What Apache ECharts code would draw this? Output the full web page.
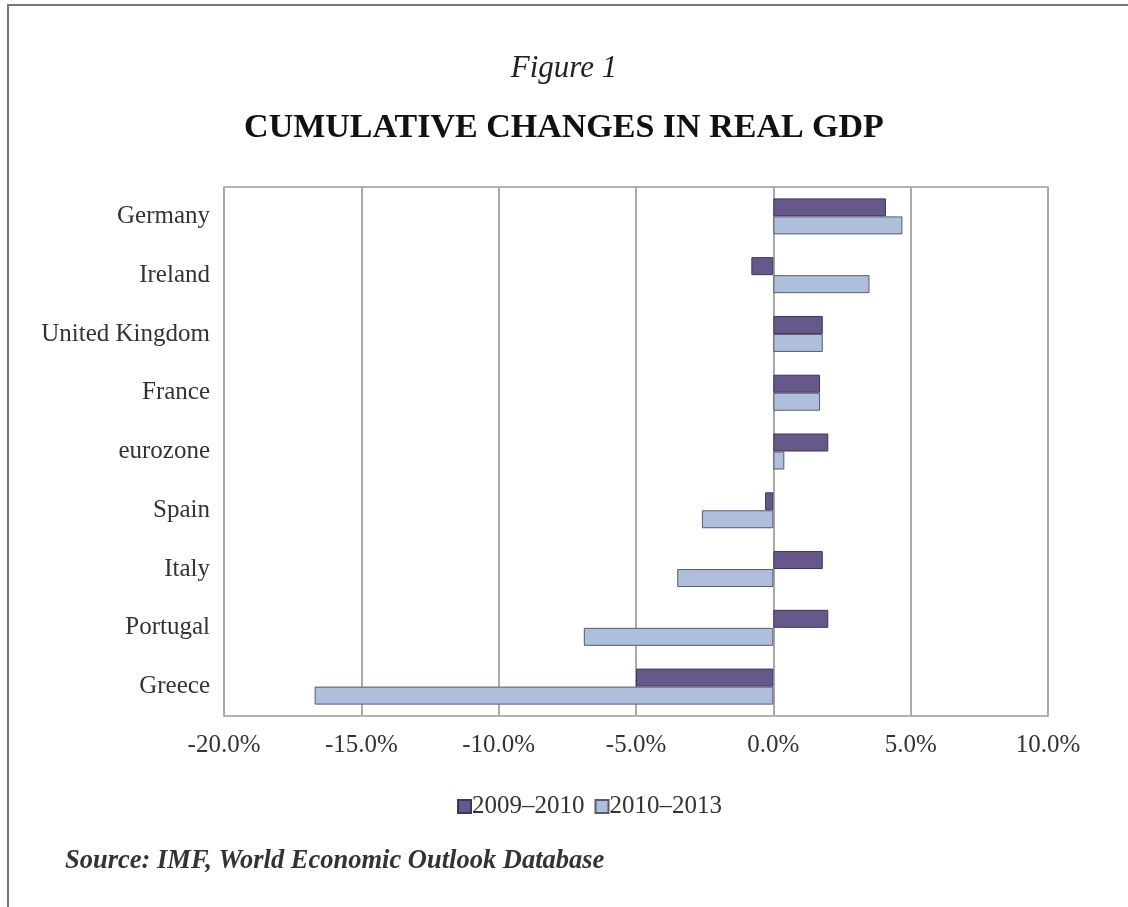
<!DOCTYPE html>
<html>
<head>
<meta charset="utf-8">
<style>
html,body{margin:0;padding:0;background:#fff;}
#chart{width:1128px;height:907px;}
</style>
<script src="https://cdn.jsdelivr.net/npm/echarts@6/dist/echarts.min.js"></script>
</head>
<body>
<div id="chart"></div>
<script>
const categories = ['Germany','Ireland','United Kingdom','France','eurozone','Spain','Italy','Portugal','Greece'];
const series1Name = '2009\u20132010';
const series2Name = '2010\u20132013';
const values2009_2010 = [4.1, -0.8, 1.8, 1.7, 2.0, -0.3, 1.8, 2.0, -5.0];
const values2010_2013 = [4.7, 3.5, 1.8, 1.7, 0.4, -2.6, -3.5, -6.9, -16.7];
const figureLabel = 'Figure 1';
const titleText = 'CUMULATIVE CHANGES IN REAL GDP';
const sourceText = 'Source: IMF, World Economic Outlook Database';

const serif = '"Liberation Serif", "DejaVu Serif", serif';
const chart = echarts.init(document.getElementById('chart'));
chart.setOption({
  backgroundColor: '#fff',
  animation: false,
  title: [
    {text: figureLabel, left: 'center', top: 53, padding: 0,
     textStyle: {fontFamily: serif, fontStyle: 'italic', fontWeight: 'normal', fontSize: 31, color: '#222'}},
    {text: titleText, left: 'center', top: 111, padding: 0,
     textStyle: {fontFamily: serif, fontWeight: 'bold', fontSize: 34, color: '#111'}},
    {text: sourceText, left: 65, top: 848, padding: 0,
     textStyle: {fontFamily: serif, fontStyle: 'italic', fontWeight: 'bold', fontSize: 26.5, color: '#333'}}
  ],
  graphic: [
    {type: 'rect', shape: {x: 8, y: 5, width: 1140, height: 920}, style: {fill: 'none', stroke: '#777', lineWidth: 2}, silent: true}
  ],
  legend: {
    data: [series1Name, series2Name],
    left: 452, top: 789,
    itemWidth: 13, itemHeight: 13, itemGap: 10,
    icon: 'rect',
    textStyle: {fontFamily: serif, fontSize: 25, color: '#333', padding: [0,0,0,-4]}
  },
  grid: {left: 224, right: 80, top: 187, bottom: 191, containLabel: false,
    show: true, borderColor: '#999', borderWidth: 1.5},
  xAxis: {
    type: 'value', min: -20, max: 10, interval: 5,
    axisLine: {show: false}, axisTick: {show: false},
    splitLine: {show: true, lineStyle: {color: '#aaa', width: 2}},
    axisLabel: {fontFamily: serif, fontSize: 25, color: '#333', margin: 17,
      formatter: v => v.toFixed(1) + '%'}
  },
  yAxis: {
    type: 'category', data: categories, inverse: true,
    axisLine: {show: false}, axisTick: {show: false},
    axisLabel: {fontFamily: serif, fontSize: 25, color: '#333', margin: 14}
  },
  series: [
    {name: series1Name, type: 'bar', data: values2009_2010, barWidth: 18, barGap: '0%',
     itemStyle: {color: '#66588a', borderColor: '#3e3558', borderWidth: 1}},
    {name: series2Name, type: 'bar', data: values2010_2013, barWidth: 18, barGap: '0%',
     itemStyle: {color: '#aebfdb', borderColor: '#5a5a6a', borderWidth: 1}}
  ]
});
</script>
</body>
</html>
